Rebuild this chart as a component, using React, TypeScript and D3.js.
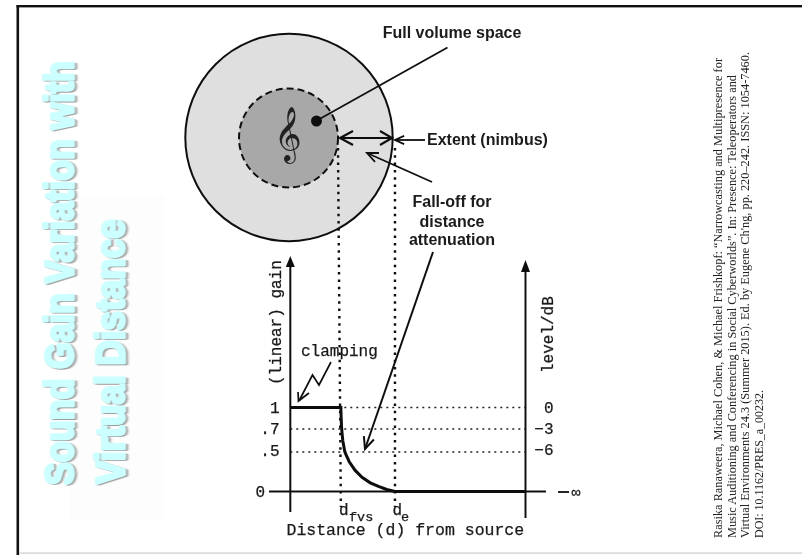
import React from "react";
import * as d3 from "d3";

const gainTicks = [
  { label: "1", gain: 1, base: 413 },
  { label: ".7", gain: 0.7, base: 434 },
  { label: ".5", gain: 0.5, base: 456 },
];
const dbTicks = [
  { label: "0", gain: 1, base: 413 },
  { label: "−3", gain: 0.7, base: 434 },
  { label: "−6", gain: 0.5, base: 455 },
];
const gainStops = [0, 0.5, 0.7, 1];
const distanceFvs = 0.215;
const distanceExtent = 0.445;
const curveDistance = [0, 0.215, 0.216, 0.218, 0.223, 0.232, 0.25, 0.275, 0.305, 0.34, 0.375, 0.41, 0.445, 1];
const curveGain = [1, 1, 0.88, 0.72, 0.6, 0.5, 0.38, 0.27, 0.18, 0.11, 0.065, 0.025, 0, 0];
const creditLines = [
  "Rasika Ranaweera, Michael Cohen, & Michael Frishkopf: “Narrowcasting and Multipresence for",
  "Music Auditioning and Conferencing in Social Cyberworlds”. In: Presence: Teleoperators and",
  "Virtual Environments 24.3 (Summer 2015). Ed. by Eugene Ch'ng, pp. 220–242. ISSN: 1054-7460.",
  "DOI: 10.1162/PRES_a_00232.",
];
const creditLengths = [480, 463, 486, 148];
const titleLines = ["Sound Gain Variation with", "Virtual Distance"];
const titleCondense = [0.835, 0.857];

const x = d3.scaleLinear().domain([0, 1]).range([290.3, 525.5]);
const y = d3.scaleLinear().domain(gainStops).range([491.5, 452, 429, 407.5]);
const curve = d3
  .line<number>()
  .x((d) => x(d))
  .y((_, i) => y(curveGain[i]));

const sans = "Liberation Sans, Arial, sans-serif";
const mono = "Liberation Mono, Courier New, monospace";
const serif = "Liberation Serif, Times New Roman, serif";
const ink = "#1a1a1a";

function Arrow({ x1, y1, x2, y2, w = 2, l = 12, s = 0.42 }: any) {
  const a = Math.atan2(y2 - y1, x2 - x1);
  const p = (t: number) => `${x2 - l * Math.cos(a + t)},${y2 - l * Math.sin(a + t)}`;
  return (
    <g fill="none" stroke="#111" strokeWidth={w}>
      <line x1={x1} y1={y1} x2={x2} y2={y2} />
      <polyline points={`${p(s)} ${x2},${y2} ${p(-s)}`} />
    </g>
  );
}

const monoProps = { fontFamily: mono, fontSize: 16, fill: ink, stroke: ink, strokeWidth: 0.25 };
const boldProps = { fontFamily: sans, fontWeight: 700, fontSize: 16, fill: ink };

export default function App() {
  return (
    <svg width={802} height={555} style={{ position: "absolute", left: 0, top: 0, background: "#fff" }}>
      <defs>
        <filter id="blur" x="-5%" y="-5%" width="110%" height="110%"><feGaussianBlur stdDeviation="0.5" /></filter>
        <filter id="soft" x="-5%" y="-5%" width="110%" height="110%"><feGaussianBlur stdDeviation="0.35" /></filter>
        <filter id="shadow" x="-5%" y="-5%" width="110%" height="110%"><feGaussianBlur stdDeviation="0.9" /></filter>
      </defs>
      <rect x={70} y={195} width={95} height={325} fill="#fdfdfd" />
      <rect x={16.5} y={5} width={786} height={2.4} fill="#111" />
      <rect x={16.5} y={5} width={2.6} height={550} fill="#111" />
      <rect x={19} y={552.5} width={783} height={1.2} fill="#ccc" />

      {titleLines.map((t, i) => {
        const common = {
          fontFamily: sans,
          fontWeight: 700,
          fontSize: 41,
          strokeLinejoin: "round" as const,
        };
        return (
          <g key={t} transform={`translate(${i === 0 ? 73.5 : 124.5},${i === 0 ? 485 : 484}) rotate(-90) scale(${titleCondense[i]},1)`}>
            <text x={-1} y={2.2} {...common} fill="#9a9a9a" stroke="#9a9a9a" strokeWidth={2.8} filter="url(#shadow)">{t}</text>
            <text {...common} fill="#ccffff" stroke="#ccffff" strokeWidth={2.8} filter="url(#soft)">{t}</text>
          </g>
        );
      })}

      <g filter="url(#blur)">
        <circle cx={289} cy={137.5} r={103.7} fill="#dfdfdf" stroke="#111" strokeWidth={2} />
        <circle cx={288.5} cy={138} r={49.5} fill="#a8a8a8" stroke="#111" strokeWidth={2} strokeDasharray="7 4" />
        <text x={288} y={150} fontSize={47} textAnchor="middle" fontFamily="DejaVu Sans, serif" fill="#222">𝄞</text>
        <circle cx={316.5} cy={121} r={5.5} fill="#111" />
        <line x1={316} y1={121} x2={447.5} y2={47.5} stroke="#111" strokeWidth={1.8} />
        <text x={452} y={38} textAnchor="middle" {...boldProps}>Full volume space</text>

        <g stroke="#111" fill="none" strokeWidth={2.2}>
          <line x1={340} y1={138} x2={392} y2={138} />
          <polyline points="353,131 340,138 353,145" />
          <polyline points="380,131 392,138 380,145" />
        </g>
        <Arrow x1={425} y1={140} x2={395} y2={140} w={1.8} l={10} />
        <text x={427} y={145} {...boldProps}>Extent (nimbus)</text>
        <Arrow x1={432} y1={182} x2={367} y2={153} w={1.8} />
        <text textAnchor="middle" {...boldProps}>
          <tspan x={452} y={207}>Fall-off for</tspan>
          <tspan x={452} y={227}>distance</tspan>
          <tspan x={452} y={245}>attenuation</tspan>
        </text>
        <Arrow x1={433} y1={252} x2={365} y2={449} w={2} l={13} />

        <line x1={338} x2={x(distanceFvs)} y1={148} y2={507} stroke="#111" strokeWidth={2.4} strokeDasharray="2.5 4.8" />
        <line x1={x(distanceExtent)} x2={x(distanceExtent)} y1={148} y2={507} stroke="#111" strokeWidth={2.4} strokeDasharray="2.5 4.8" />
        {gainTicks.map((t) => (
          <line key={t.label} x1={x(0)} x2={x(1)} y1={y(t.gain)} y2={y(t.gain)} stroke="#222" strokeWidth={1.6} strokeDasharray="2 4" />
        ))}
        <line x1={269} x2={546} y1={y(0)} y2={y(0)} stroke="#111" strokeWidth={1.8} />
        <line x1={x(0)} x2={x(0)} y1={262} y2={512} stroke="#111" strokeWidth={2} />
        <path d={`M${x(0)},256 L${x(0) - 4.5},267 L${x(0) + 4.5},267 Z`} fill="#111" />
        <line x1={x(1)} x2={x(1)} y1={266} y2={518} stroke="#111" strokeWidth={2} />
        <path d={`M${x(1)},260 L${x(1) - 4.5},272 L${x(1) + 4.5},272 Z`} fill="#111" />
        <path d={curve(curveDistance) ?? ""} fill="none" stroke="#111" strokeWidth={3} />

        {gainTicks.map((t) => (
          <text key={t.label} x={279.5} y={t.base} textAnchor="end" {...monoProps}>{t.label}</text>
        ))}
        <text x={265} y={497} textAnchor="end" {...monoProps}>0</text>
        {dbTicks.map((t) => (
          <text key={t.label} x={553.5} y={t.base} textAnchor="end" {...monoProps}>{t.label}</text>
        ))}
        <line x1={558} x2={569} y1={492} y2={492} stroke="#111" strokeWidth={1.8} />
        <text x={571.5} y={497} {...monoProps} fontSize={15}>∞</text>

        <text transform="translate(280.5,385) rotate(-90)" {...monoProps}>(linear) gain</text>
        <text transform="translate(553,373) rotate(-90)" {...monoProps}>level/dB</text>
        <text x={301} y={356} {...monoProps}>clamping</text>
        <polyline points="331,362 319,385 312.5,375 299.5,400" fill="none" stroke="#111" strokeWidth={1.7} />
        <polyline points="298,392 298.5,401 309,393" fill="none" stroke="#111" strokeWidth={1.7} />
        <text x={339} y={515} {...monoProps}>d</text>
        <text x={349} y={521} {...monoProps} fontSize={13.5}>fvs</text>
        <text x={392.5} y={515} {...monoProps}>d</text>
        <text x={401} y={521} {...monoProps} fontSize={13.5}>e</text>
        <text x={286.5} y={535} {...monoProps} fontSize={16.5}>Distance (d) from source</text>
      </g>

      <g filter="url(#soft)">
        {creditLines.map((t, i) => (
          <text
            key={i}
            transform={`translate(${722 + i * 13.7},538) rotate(-90)`}
            fontFamily={serif}
            fontSize={13.5}
            fill="#222"
            textLength={creditLengths[i]}
            lengthAdjust="spacingAndGlyphs"
          >
            {t}
          </text>
        ))}
      </g>
    </svg>
  );
}
